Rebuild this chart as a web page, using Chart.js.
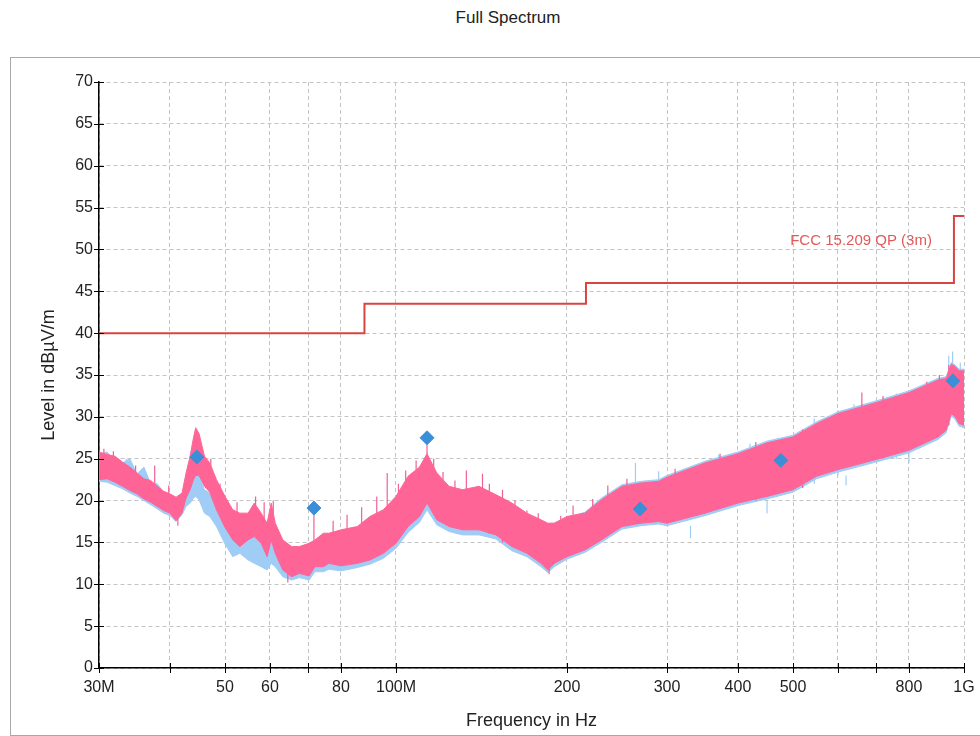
<!DOCTYPE html>
<html>
<head>
<meta charset="utf-8">
<title>Full Spectrum</title>
<script src="https://cdn.jsdelivr.net/npm/chart.js@4.4.1/dist/chart.umd.min.js"></script>
<style>
  body { margin: 0; background: #fff; font-family: "Liberation Sans", Arial, sans-serif; }
  #title { position: absolute; left: 0; top: 8px; width: 1016px; text-align: center; font-size: 17px; color: #222; }
  #frame { position: absolute; left: 10px; top: 57px; width: 990px; height: 677px; border: 1px solid #a8a8a8; }
  #wrap { position: absolute; left: 0; top: 0; width: 980px; height: 736px; }
</style>
</head>
<body>
<div id="title">Full Spectrum</div>
<div id="frame"></div>
<div id="wrap"><canvas id="myChart" width="980" height="736"></canvas></div>
<script>
// frequencies in MHz and envelope levels (dBµV/m)
var freqMHz = [30, 31, 32, 33, 34, 35, 36, 37, 38, 39, 40, 41, 42, 42.7, 43.4, 44, 44.4, 45, 46, 47, 48.3,
  50, 51.6, 53.1, 54.9, 56.3, 57.9, 59.3, 60.3, 61.3, 63.2, 65.5, 67.6, 70.3, 72, 74.5, 76.2, 80, 85.5,
  90, 95, 100, 105, 110, 113.4, 118, 124, 131, 140, 150, 160, 170, 180, 185, 190, 200, 215, 230, 250,
  270, 290, 300, 350, 400, 450, 500, 550, 600, 700, 800, 900, 930, 950, 965, 980, 1000];
var pinkHigh = [25.8, 25.5, 25.3, 24.6, 24.0, 23.3, 22.6, 22.4, 21.7, 21.1, 20.8, 20.4, 20.9, 23.3, 25.3, 27.5, 28.7, 28.0, 25.3, 24.5, 22.5,
  20.5, 18.9, 18.5, 18.5, 19.7, 18.5, 17.3, 19.7, 17.3, 15.3, 14.5, 14.5, 14.9, 15.3, 16.1, 16.1, 16.5, 16.9,
  18.1, 18.9, 20.5, 22.9, 24.0, 25.6, 23.3, 21.7, 21.3, 21.7, 20.7, 19.7, 18.5, 17.7, 17.3, 17.3, 18.1, 18.5, 20.1, 21.7,
  22.1, 22.3, 22.8, 24.5, 25.6, 26.9, 27.6, 29.2, 30.4, 31.7, 32.9, 34.4, 34.6, 36.3, 36.0, 35.5, 35.5];
var pinkLow = [22.5, 22.6, 22.2, 21.7, 21.2, 20.8, 20.2, 19.8, 19.3, 18.8, 18.5, 17.6, 18.5, 20.3, 21.3, 22.5, 23.0, 23.0, 21.7, 21.0, 18.9,
  16.8, 15.3, 14.5, 15.3, 15.7, 14.9, 13.3, 15.3, 13.7, 11.7, 10.9, 11.3, 11.0, 12.1, 12.1, 12.5, 12.2, 12.5,
  12.9, 13.7, 14.9, 16.9, 18.1, 19.7, 17.7, 16.9, 16.5, 16.5, 15.9, 14.5, 13.7, 12.5, 11.7, 12.5, 13.3, 14.1, 15.3, 16.9,
  17.3, 17.5, 17.3, 18.5, 19.7, 20.5, 21.3, 22.9, 23.7, 24.9, 26.0, 27.6, 28.4, 30.4, 30.0, 29.2, 29.0];
var blueHigh = [25.5, 25.8, 24.8, 24.5, 25.0, 23.2, 24.0, 22.0, 22.0, 21.0, 20.6, 20.0, 20.5, 21.7, 22.5, 23.0, 23.5, 22.9, 21.3, 20.9, 19.3,
  17.7, 16.5, 16.1, 15.3, 15.7, 14.9, 14.5, 16.1, 14.5, 13.7, 13.3, 13.5, 13.7, 14.5, 15.0, 15.0, 15.5, 16.0,
  17.0, 18.0, 19.0, 21.0, 22.0, 22.5, 21.5, 20.5, 20.3, 20.5, 20.2, 19.3, 18.3, 17.5, 17.2, 17.3, 18.0, 18.6, 20.3, 21.9,
  22.3, 22.5, 23.0, 24.7, 25.8, 27.1, 27.8, 29.4, 30.6, 31.9, 33.1, 34.6, 34.8, 36.5, 36.2, 35.7, 35.7];
var blueLow = [22.3, 22.2, 21.8, 21.4, 20.9, 20.5, 20.0, 19.5, 19.0, 18.5, 18.2, 17.5, 18.3, 19.3, 19.7, 20.3, 20.5, 20.1, 18.5, 18.1, 16.9,
  14.8, 13.3, 13.7, 12.9, 12.5, 12.1, 11.7, 12.5, 12.1, 10.9, 10.5, 10.8, 10.5, 11.5, 11.5, 11.8, 11.6, 12.0,
  12.4, 13.1, 14.3, 16.2, 17.4, 18.9, 17.1, 16.3, 15.9, 15.9, 15.4, 14.0, 13.3, 12.1, 11.4, 12.1, 13.0, 13.8, 15.0, 16.6,
  17.0, 17.2, 17.0, 18.2, 19.4, 20.2, 21.0, 22.6, 23.4, 24.6, 25.7, 27.3, 28.1, 30.1, 29.7, 28.9, 28.7];

// single spikes standing out of the traces: frequency, base level, tip level
var pinkSpikeFreq = [30.6, 31.8, 34.8, 37.6, 39.8, 41.3, 47.2, 49, 52.5, 56.6, 58.6, 60.8, 64.5, 71.7, 77.5, 82, 87,
  92.5, 96.5, 101, 104, 108.5, 113.4, 116.5, 121, 127, 133, 142, 146, 154, 162, 170, 178, 186, 195, 205, 222,
  236, 255, 310, 372, 430, 520, 661, 720, 860, 905, 940];
var pinkSpikeBase = [23, 23, 21.5, 20, 19, 18.5, 21.5, 19, 16, 16, 15, 15, 12, 14, 13, 13, 13.5,
  14, 15, 16, 17, 18, 20, 19, 18, 17, 17, 17, 16, 15, 14.5, 14, 13, 12.5, 13, 14, 15,
  16, 17, 18, 19, 20, 21.5, 25, 25, 27, 28, 29];
var pinkSpikeTip = [26.2, 25.9, 24.2, 24.2, 21.8, 17.0, 25.0, 22.0, 19.8, 20.5, 19.8, 20.0, 10.2, 19.0, 17.6, 18.3, 19.2,
  20.5, 23.3, 22.0, 23.6, 24.8, 27.3, 25.0, 23.4, 22.4, 23.6, 23.2, 22.0, 21.3, 20.0, 18.8, 18.5, 11.2, 18.2, 19.4, 20.2,
  21.8, 22.6, 23.8, 25.6, 27.0, 28.5, 32.9, 32.5, 34.2, 35.0, 36.2];
var blueSpikeFreq = [33.5, 264, 290, 330, 370, 420, 450, 470, 545, 600, 620, 640, 760, 800, 940, 955, 985];
var blueSpikeBase = [22, 18, 18, 17, 19, 20, 20, 21, 22, 23, 23, 24, 25, 26, 29, 30, 29];
var blueSpikeTip = [25.0, 24.5, 23.5, 15.5, 25.5, 26.8, 18.5, 27.5, 29.8, 30.8, 21.8, 31.5, 32.8, 24.5, 37.3, 37.8, 36.5];

// FCC 15.209 QP limit (3m)
var limitFreq = [30, 88, 88, 216, 216, 960, 960, 1000];
var limitLevel = [40, 40, 43.5, 43.5, 46, 46, 54, 54];

// final measurement markers
var markerFreq = [44.6, 71.7, 113.4, 269, 476, 956];
var markerLevel = [25.2, 19.1, 27.5, 19.0, 24.8, 34.3];

// x axis ticks
var xTickValues = [30, 40, 50, 60, 70, 80, 100, 200, 300, 400, 500, 600, 700, 800, 1000];
var xTickLabels = ["30M", "", "50", "60", "", "80", "100M", "200", "300", "400", "500", "", "", "800", "1G"];

function pts(xs, ys) {
  return xs.map(function (x, i) { return { x: x, y: ys[i] }; });
}

// vertical segments, broken apart by null points
function spikes(fs, base, tip) {
  var out = [];
  fs.forEach(function (f, i) {
    out.push({ x: f, y: base[i] }, { x: f, y: tip[i] }, { x: f, y: null });
  });
  return out;
}

var pink = "#ff6496";
var lightBlue = "#9fcdf6";
var font = "'Liberation Sans', Arial, sans-serif";

// draws the small black tick marks crossing both axes and the limit name
var axisTicks = {
  id: "axisTicks",
  afterDraw: function (chart) {
    var ctx = chart.ctx;
    var xs = chart.scales.x, ys = chart.scales.y;
    ctx.save();
    ctx.strokeStyle = "#000";
    ctx.lineWidth = 1;
    ctx.beginPath();
    xTickValues.forEach(function (v) {
      var px = Math.round(xs.getPixelForValue(v)) + 0.5;
      ctx.moveTo(px, ys.bottom - 5);
      ctx.lineTo(px, ys.bottom + 5);
    });
    ys.ticks.forEach(function (t) {
      var py = Math.round(ys.getPixelForValue(t.value)) + 0.5;
      ctx.moveTo(xs.left - 5, py);
      ctx.lineTo(xs.left + 5, py);
    });
    ctx.stroke();
    ctx.fillStyle = "#e05a5a";
    ctx.font = "15px " + font;
    ctx.textAlign = "right";
    ctx.textBaseline = "middle";
    ctx.fillText("FCC 15.209 QP (3m)", xs.getPixelForValue(878), ys.getPixelForValue(51));
    ctx.restore();
  }
};

var ctx = document.getElementById("myChart").getContext("2d");
var myChart = new Chart(ctx, {
  type: "line",
  data: {
    datasets: [
      { data: pts(freqMHz, blueHigh), borderColor: lightBlue, borderWidth: 1, pointRadius: 0, fill: false, order: 5 },
      { data: pts(freqMHz, blueLow), borderColor: lightBlue, borderWidth: 1, pointRadius: 0, fill: "-1", backgroundColor: lightBlue, order: 5 },
      { data: spikes(blueSpikeFreq, blueSpikeBase, blueSpikeTip), borderColor: lightBlue, borderWidth: 1.2, pointRadius: 0, spanGaps: false, order: 5 },
      { data: pts(freqMHz, pinkHigh), borderColor: pink, borderWidth: 1, pointRadius: 0, fill: false, order: 3 },
      { data: pts(freqMHz, pinkLow), borderColor: pink, borderWidth: 1, pointRadius: 0, fill: "-1", backgroundColor: pink, order: 3 },
      { data: spikes(pinkSpikeFreq, pinkSpikeBase, pinkSpikeTip), borderColor: "#f0609a", borderWidth: 1.2, pointRadius: 0, spanGaps: false, order: 3 },
      { data: pts(limitFreq, limitLevel), borderColor: "#d64541", borderWidth: 2, pointRadius: 0, fill: false, order: 2 },
      {
        type: "scatter", data: pts(markerFreq, markerLevel), pointStyle: "rectRot", pointRadius: 7,
        backgroundColor: "#3a8fd8", borderColor: "#3a8fd8", order: 1
      }
    ]
  },
  options: {
    responsive: false,
    animation: false,
    layout: { padding: { left: 34, right: 16, top: 82, bottom: 0 } },
    plugins: { legend: { display: false }, tooltip: { enabled: false } },
    scales: {
      x: {
        type: "logarithmic",
        min: 30,
        max: 1000,
        afterFit: function (s) {
          s.height = 68;
          s.paddingRight = 0;
          s.paddingLeft = 0;
        },
        afterBuildTicks: function (s) {
          s.ticks = xTickValues.map(function (v) { return { value: v }; });
        },
        ticks: {
          autoSkip: false,
          maxRotation: 0,
          padding: 10,
          color: "#222",
          font: { size: 16, family: font },
          callback: function (v) {
            var i = xTickValues.indexOf(v);
            return i >= 0 ? xTickLabels[i] : "";
          }
        },
        grid: { color: "#c4c4c4", drawTicks: false },
        border: { display: true, color: "#000", width: 1.5, dash: [4, 3] },
        title: { display: true, text: "Frequency in Hz", color: "#222", font: { size: 18, family: font } }
      },
      y: {
        min: 0,
        max: 70,
        afterFit: function (s) { s.width = 65; },
        ticks: {
          stepSize: 2.5,
          padding: 6,
          color: "#222",
          font: { size: 16, family: font },
          callback: function (v) { return v % 5 === 0 ? v : ""; }
        },
        grid: { color: "#c4c4c4", drawTicks: false },
        border: { display: true, color: "#000", width: 1.5, dash: [4, 3] },
        title: { display: true, text: "Level in dBµV/m", color: "#222", font: { size: 18, family: font } }
      }
    }
  },
  plugins: [axisTicks]
});
</script>
</body>
</html>
